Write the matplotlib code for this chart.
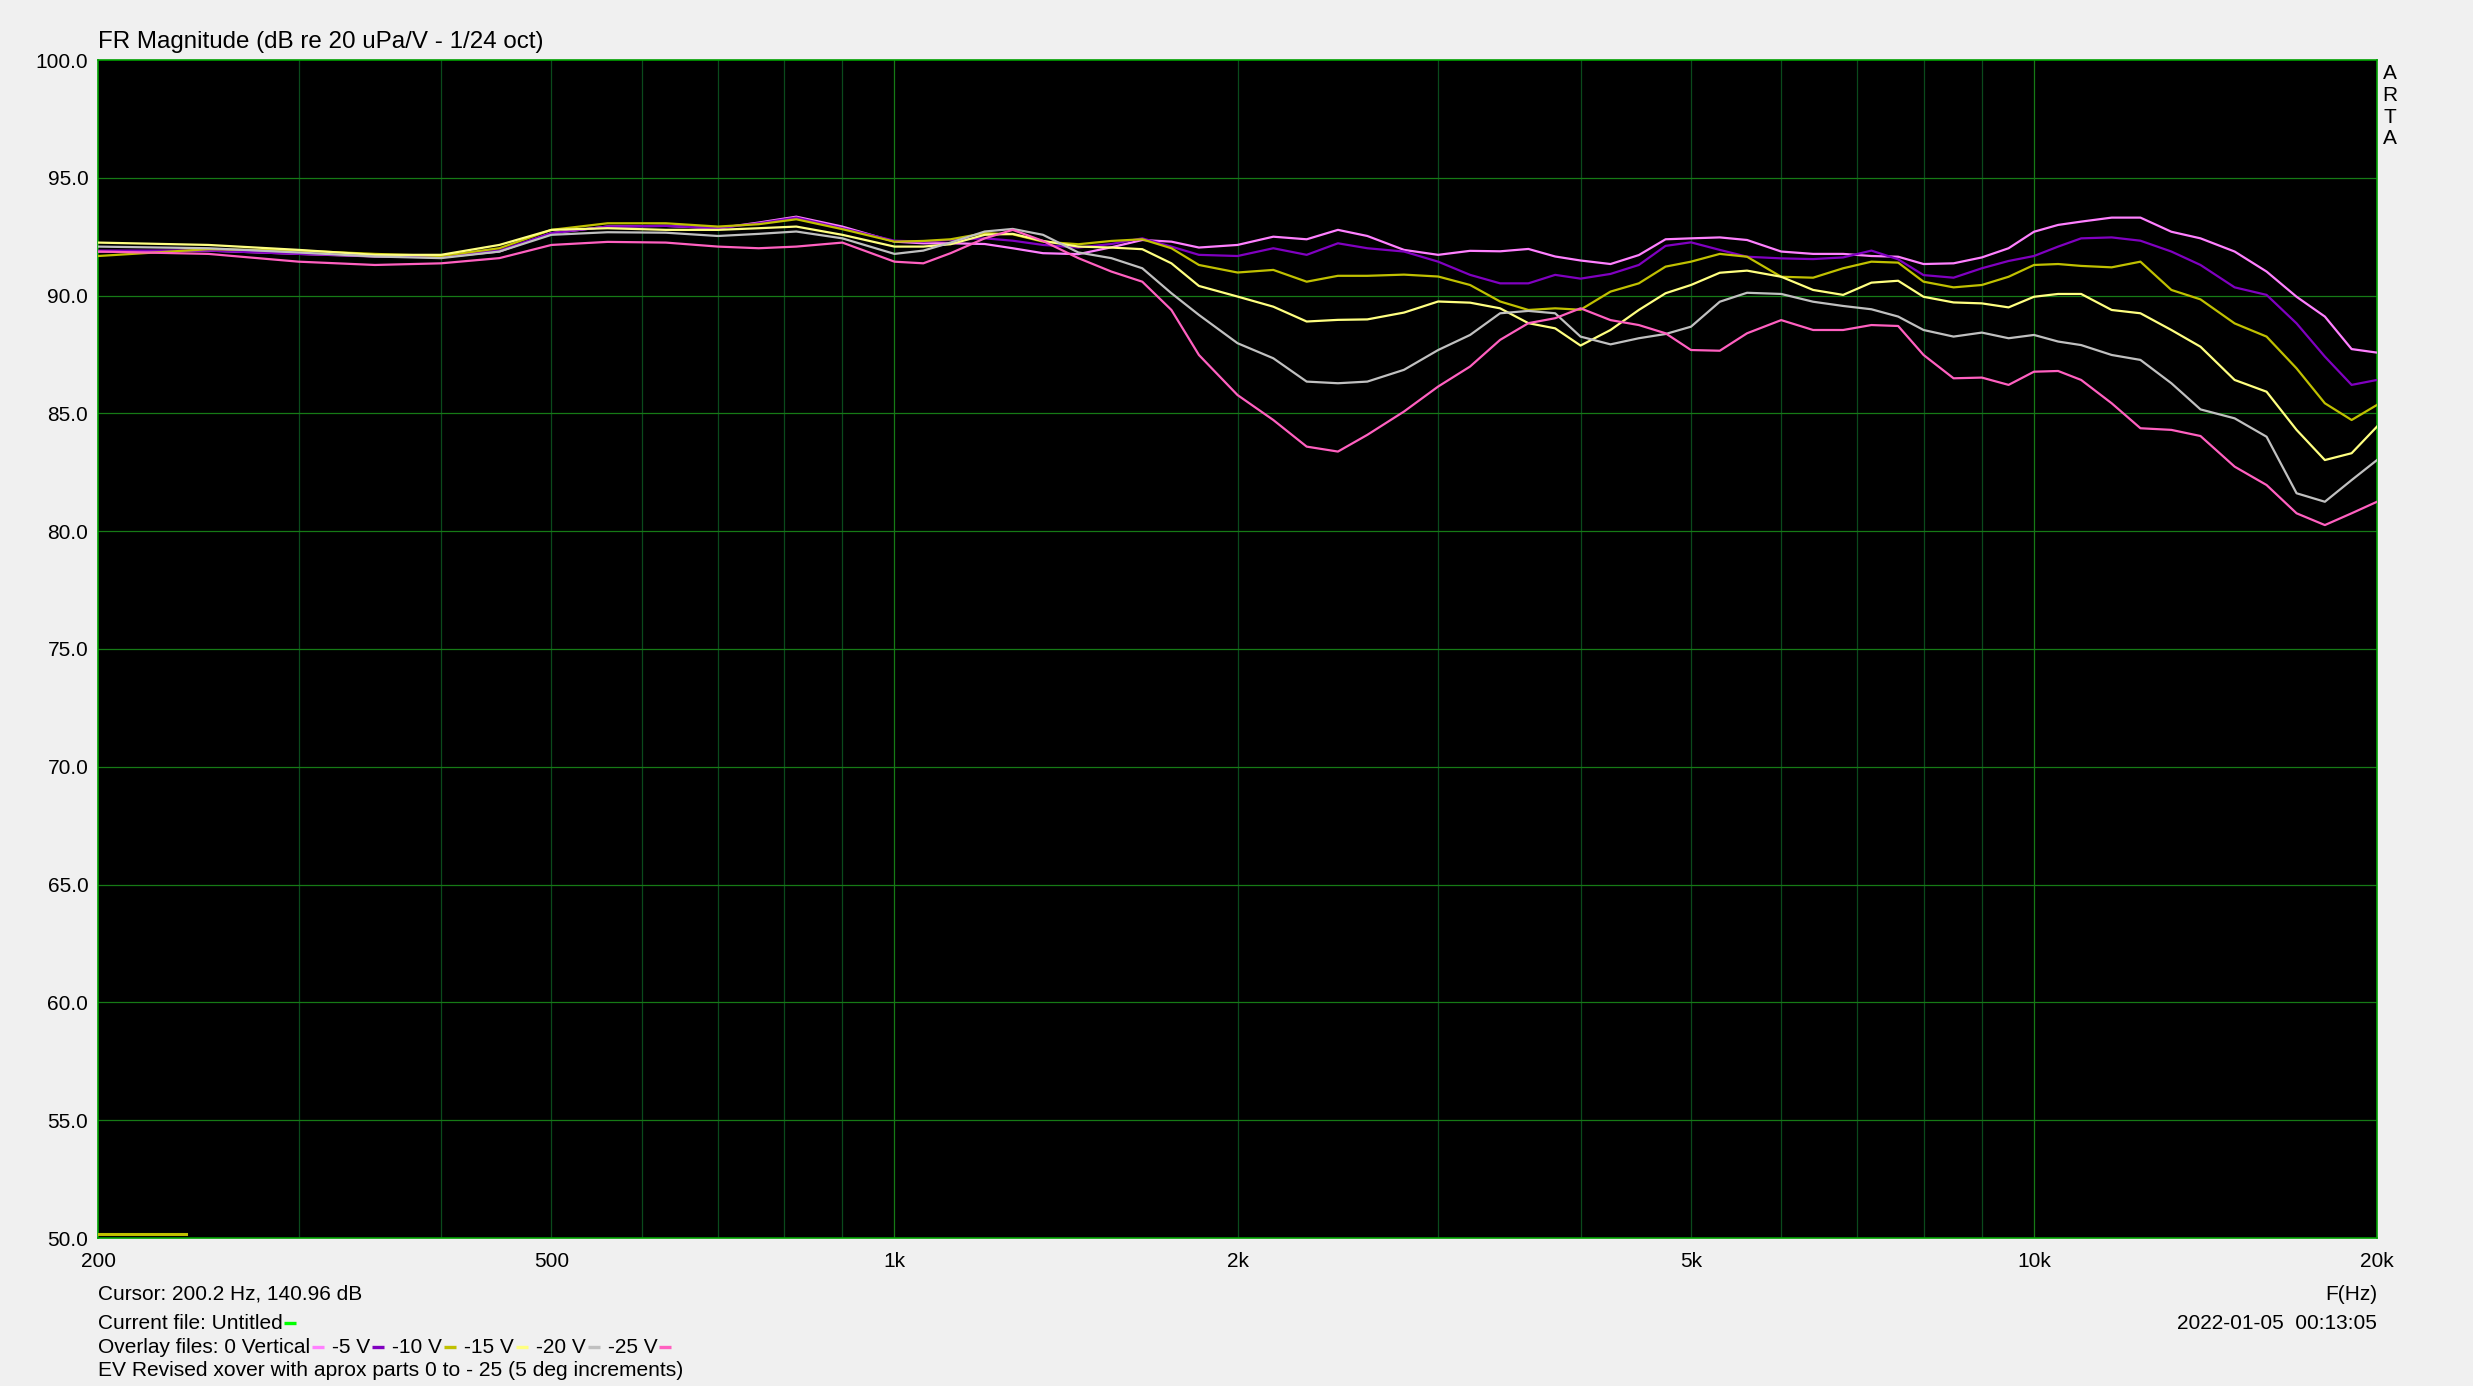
import numpy as np
import matplotlib.pyplot as plt
from matplotlib.lines import Line2D
from matplotlib.ticker import NullLocator

plt.rcParams['font.family'] = ['Liberation Sans', 'DejaVu Sans']

# frequencies (Hz) at which the curves were read
freq = [200, 250, 300, 350, 400, 450, 500, 560, 630, 700, 760, 820, 900, 1000, 1060, 1120, 1200,
        1270, 1350, 1450, 1550, 1650, 1750, 1850, 2000, 2150, 2300, 2450, 2600, 2800, 3000, 3200, 3400, 3600, 3800, 4000,
        4250, 4500, 4750, 5000, 5300, 5600, 6000, 6400, 6800, 7200, 7600, 8000, 8500, 9000, 9500, 10000, 10500, 11000,
        11700, 12400, 13200, 14000, 15000, 16000, 17000, 18000, 19000, 20000]

v_0 = [91.87, 91.91, 91.77, 91.66, 91.63, 91.87, 92.65, 92.93, 92.96, 92.86, 93.10, 93.35, 92.93, 92.29, 92.22, 92.22, 92.19,
       92.01, 91.80, 91.76, 92.05, 92.36, 92.29, 92.04, 92.15, 92.50, 92.39, 92.79, 92.53, 91.94, 91.73, 91.90, 91.88, 91.98, 91.66, 91.49,
       91.34, 91.72, 92.39, 92.43, 92.47, 92.36, 91.87, 91.77, 91.77, 91.68, 91.65, 91.34, 91.37, 91.62, 92.01, 92.71, 93.00, 93.14,
       93.31, 93.31, 92.71, 92.43, 91.87, 91.02, 89.95, 89.11, 87.73, 87.58]
v_5 = [91.91, 91.91, 91.77, 91.68, 91.66, 91.91, 92.65, 92.93, 92.96, 92.86, 93.07, 93.31, 92.86, 92.33, 92.29, 92.36, 92.43,
       92.33, 92.15, 92.04, 92.19, 92.43, 92.08, 91.73, 91.68, 92.01, 91.73, 92.22, 92.01, 91.87, 91.44, 90.88, 90.52, 90.52, 90.88, 90.72,
       90.92, 91.30, 92.11, 92.26, 91.94, 91.65, 91.58, 91.55, 91.62, 91.91, 91.54, 90.87, 90.76, 91.16, 91.47, 91.68, 92.08, 92.43,
       92.47, 92.33, 91.87, 91.30, 90.35, 90.03, 88.82, 87.41, 86.21, 86.42]
v_10 = [91.68, 91.97, 91.91, 91.77, 91.68, 92.01, 92.79, 93.07, 93.07, 92.93, 93.03, 93.24, 92.82, 92.29, 92.32, 92.39, 92.65,
        92.60, 92.29, 92.18, 92.32, 92.39, 92.01, 91.30, 90.98, 91.09, 90.59, 90.84, 90.84, 90.89, 90.81, 90.45, 89.75, 89.39, 89.46, 89.40,
        90.17, 90.52, 91.23, 91.44, 91.77, 91.65, 90.80, 90.76, 91.16, 91.44, 91.40, 90.59, 90.35, 90.45, 90.80, 91.30, 91.34, 91.26,
        91.20, 91.44, 90.24, 89.84, 88.82, 88.26, 86.91, 85.43, 84.72, 85.36]
v_15 = [92.25, 92.15, 91.94, 91.73, 91.73, 92.15, 92.79, 92.86, 92.79, 92.79, 92.86, 92.93, 92.58, 92.08, 92.08, 92.18, 92.58,
        92.62, 92.32, 92.08, 92.04, 91.97, 91.37, 90.41, 89.96, 89.53, 88.90, 88.97, 88.99, 89.28, 89.75, 89.70, 89.46, 88.83, 88.61, 87.88,
        88.54, 89.39, 90.10, 90.45, 90.97, 91.06, 90.80, 90.24, 90.03, 90.55, 90.63, 89.95, 89.71, 89.67, 89.50, 89.95, 90.07, 90.07,
        89.39, 89.25, 88.54, 87.83, 86.42, 85.92, 84.30, 83.02, 83.31, 84.44]
v_20 = [92.08, 92.01, 91.83, 91.66, 91.59, 91.87, 92.58, 92.69, 92.67, 92.53, 92.62, 92.72, 92.43, 91.77, 91.91, 92.25, 92.72,
        92.83, 92.58, 91.83, 91.59, 91.16, 90.10, 89.18, 87.98, 87.34, 86.35, 86.28, 86.35, 86.85, 87.69, 88.33, 89.25, 89.35, 89.25, 88.26,
        87.93, 88.19, 88.37, 88.68, 89.74, 90.12, 90.07, 89.74, 89.56, 89.42, 89.11, 88.54, 88.26, 88.43, 88.19, 88.33, 88.05, 87.90,
        87.48, 87.27, 86.28, 85.17, 84.79, 84.01, 81.61, 81.25, 82.17, 83.02]
v_25 = [91.87, 91.77, 91.44, 91.30, 91.37, 91.59, 92.15, 92.28, 92.25, 92.08, 92.01, 92.08, 92.25, 91.44, 91.37, 91.80, 92.43,
        92.79, 92.32, 91.59, 91.02, 90.59, 89.39, 87.48, 85.78, 84.72, 83.59, 83.38, 84.09, 85.08, 86.14, 86.99, 88.12, 88.83, 89.04, 89.46,
        88.96, 88.75, 88.40, 87.69, 87.66, 88.40, 88.96, 88.54, 88.54, 88.75, 88.71, 87.48, 86.49, 86.52, 86.21, 86.77, 86.80, 86.42,
        85.43, 84.37, 84.30, 84.04, 82.74, 81.96, 80.76, 80.26, 80.76, 81.25]

series = [v_0, v_5, v_10, v_15, v_20, v_25]
names = ['0 Vertical', '-5 V', '-10 V', '-15 V', '-20 V', '-25 V']
colors = ['#ff80ff', '#8000c0', '#c0c000', '#ffff80', '#c0c0c0', '#ff60c0']

# little current-file trace at the bottom left
cur_f = [200, 239]
cur_db = [50.15, 50.15]

xticks = [200, 500, 1000, 2000, 5000, 10000, 20000]
xlabels = ['200', '500', '1k', '2k', '5k', '10k', '20k']
yticks = np.arange(50, 101, 5)

W, H = 2473, 1386
fig = plt.figure(figsize=(W / 100, H / 100), dpi=100, facecolor='#f0f0f0')
ax = fig.add_axes([98 / W, 1 - 1238 / H, 2279 / W, 1178 / H])
ax.set_facecolor('black')
ax.set_xscale('log')
ax.set_xlim(200, 20000)
ax.set_ylim(50, 100)

dark = '#0a4a1c'
bright = '#167a16'
for d in (100, 1000):
  for k in range(2, 10):
    f = d * k
    if 200 < f < 20000:
      ax.axvline(f, color=dark, lw=0.9, zorder=1)
for f in (1000, 10000):
  ax.axvline(f, color=bright, lw=0.9, zorder=1)
for y in yticks[1:-1]:
  ax.axhline(y, color=bright, lw=0.9, zorder=1)

for vals, c in zip(series, colors):
  ax.plot(freq, vals, color=c, lw=1.6, zorder=3)
ax.plot(cur_f, cur_db, color='#c0c000', lw=2.2, zorder=3)

ax.set_xticks(xticks, xlabels)
ax.xaxis.set_minor_locator(NullLocator())
ax.set_yticks(yticks, ['%.1f' % y for y in yticks])
ax.tick_params(axis='x', length=0, labelsize=15, pad=10)
ax.tick_params(axis='y', length=0, labelsize=15, pad=7)
for s in ax.spines.values():
  s.set_color('#00a000')
  s.set_linewidth(1.2)


def px(x, y):
  return x / W, 1 - y / H


fig.text(*px(98, 48), 'FR Magnitude (dB re 20 uPa/V - 1/24 oct)', fontsize=17.4, va='baseline')
for i, ch in enumerate('ARTA'):
  fig.text(*px(2390, 79 + 21.8 * i), ch, fontsize=15, va='baseline', ha='center')

fig.text(*px(2377, 1300), 'F(Hz)', fontsize=15, va='baseline', ha='right')
fig.text(*px(2377, 1329), '2022-01-05  00:13:05', fontsize=15, va='baseline', ha='right')

fig.text(*px(98, 1299), 'Cursor: 200.2 Hz, 140.96 dB', fontsize=15, va='baseline')
fig.text(*px(98, 1376), 'EV Revised xover with aprox parts 0 to - 25 (5 deg increments)', fontsize=15.1, va='baseline')

fig.canvas.draw()
r = fig.canvas.get_renderer()


def dash(x, y, c):
  fig.add_artist(Line2D([x / W, (x + 12) / W], [1 - y / H, 1 - y / H], color=c, lw=2.4,
                        solid_capstyle='butt', transform=fig.transFigure))


t = fig.text(*px(98, 1329), 'Current file: Untitled', fontsize=15, va='baseline')
dash(t.get_window_extent(r).x1 + 1, 1323, '#00ff00')

x = 98
labels = ['Overlay files: ' + names[0]] + names[1:]
for lab, c in zip(labels, colors):
  t = fig.text(*px(x, 1353), lab, fontsize=15, va='baseline')
  x = t.get_window_extent(r).x1 + 2
  dash(x, 1347, c)
  x += 12 + 8

fig.savefig('out.png', dpi=100, facecolor=fig.get_facecolor())
